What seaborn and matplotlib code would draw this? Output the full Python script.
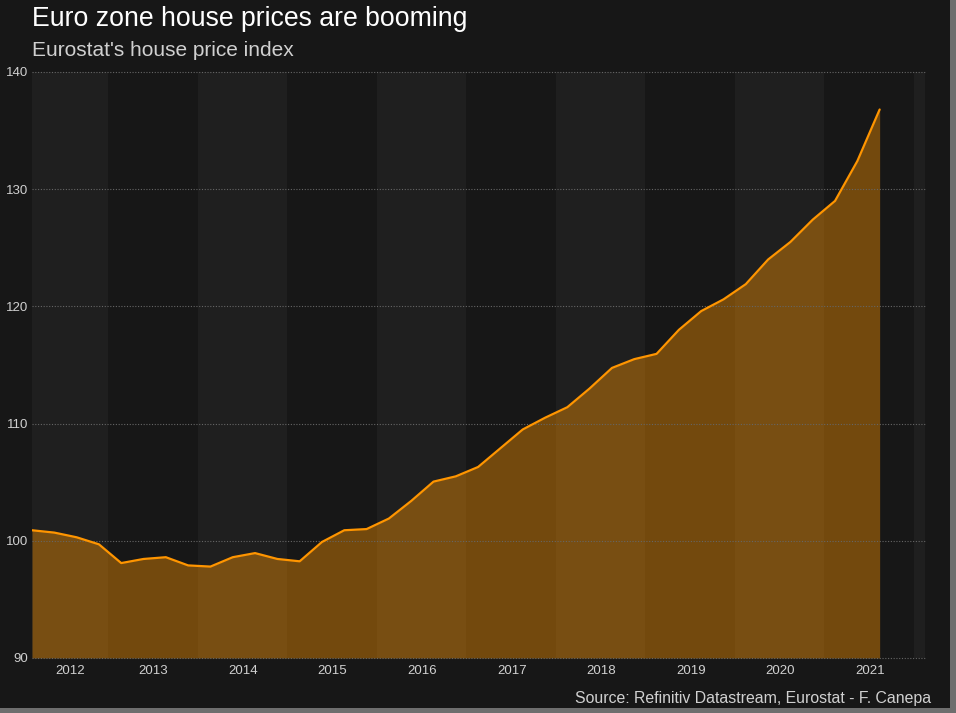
#!/usr/bin/env python3
"""Euro zone house prices chart, dark theme."""

import matplotlib

matplotlib.use("Agg")  # Use non-interactive backend
import matplotlib.dates as mdates
import matplotlib.pyplot as plt
import pandas as pd
import seaborn as sns
from matplotlib.patches import Rectangle

# Quarterly index values
first_quarter = "2012-02-25"
house_price_index = [
    100.9, 100.7, 100.3, 99.7, 98.1, 98.45, 98.6, 97.9, 97.8, 98.6,
    98.95, 98.45, 98.25, 99.9, 100.9, 101.0, 101.9, 103.4, 105.05, 105.5,
    106.3, 107.9, 109.5, 110.5, 111.4, 113.0, 114.75, 115.5, 115.95, 118.0,
    119.6, 120.6, 121.9, 124.0, 125.5, 127.4, 129.0, 132.4, 136.8,
]
years = list(range(2012, 2022))
y_ticks = [90, 100, 110, 120, 130, 140]

title = "Euro zone house prices are booming"
subtitle = "Eurostat's house price index"
source = "Source: Refinitiv Datastream, Eurostat - F. Canepa"

BG = "#171717"
BAND = "#1f1f1f"
ORANGE = "#ff9500"
TEXT = "#d0d0d0"

df = pd.DataFrame(
    {
        "date": pd.date_range(first_quarter, periods=len(house_price_index), freq="91D"),
        "index": house_price_index,
    }
)

sns.set_style("dark")
plt.rcParams["font.family"] = ["Liberation Sans", "DejaVu Sans"]

W, H = 956, 713
fig = plt.figure(figsize=(W / 100, H / 100), dpi=100, facecolor="#6e6e6e")
# Dark page, the screenshot leaves a grey edge on the right and bottom
fig.add_artist(
    Rectangle((0, 5 / H), 950 / W, 1, transform=fig.transFigure, color=BG, lw=0, zorder=-1)
)

ax = fig.add_axes([32 / W, 1 - 658 / H, (925 - 32) / W, (658 - 72) / H])
ax.set_facecolor(BG)

x_start = df["date"].iloc[0]
x_end = pd.Timestamp("2022-02-15")

# Alternating year bands
for i, year in enumerate(years):
    if i % 2 == 0:
        ax.axvspan(
            max(pd.Timestamp(f"{year}-01-01"), x_start),
            pd.Timestamp(f"{year + 1}-01-01"),
            color=BAND,
            lw=0,
            zorder=0,
        )
ax.axvspan(pd.Timestamp("2022-01-01"), x_end, color=BAND, lw=0, zorder=0)

ax.fill_between(df["date"], 90, df["index"], color=ORANGE, alpha=0.4, lw=0, zorder=1)
sns.lineplot(data=df, x="date", y="index", color=ORANGE, lw=1.6, ax=ax, zorder=3)

ax.set_xlim(x_start, x_end)
ax.set_ylim(90, 140)
ax.set_yticks(y_ticks)
# The first label sits in the middle of the clipped 2012 band
ax.set_xticks([pd.Timestamp("2012-07-29")] + [pd.Timestamp(f"{y}-07-05") for y in years[1:]])
ax.xaxis.set_major_formatter(mdates.DateFormatter("%Y"))
ax.set_xlabel("")
ax.set_ylabel("")
ax.tick_params(axis="both", length=0, labelsize=9.5, labelcolor=TEXT)
ax.tick_params(axis="x", pad=5)
ax.tick_params(axis="y", pad=3)

ax.grid(False)
for tick in y_ticks:
    ax.axhline(tick, color="#666666", lw=0.8, ls=(0, (1, 1.5)), zorder=2, clip_on=False)
for spine in ax.spines.values():
    spine.set_visible(False)

fig.text(32 / W, 1 - 19 / H, title, color="white", fontsize=19.2, va="center", ha="left")
fig.text(32 / W, 1 - 51 / H, subtitle, color=TEXT, fontsize=15, va="center", ha="left")
fig.text(931 / W, 1 - 698 / H, source, color=TEXT, fontsize=11.4, va="center", ha="right")

fig.savefig("out.png", dpi=100, facecolor=fig.get_facecolor())
